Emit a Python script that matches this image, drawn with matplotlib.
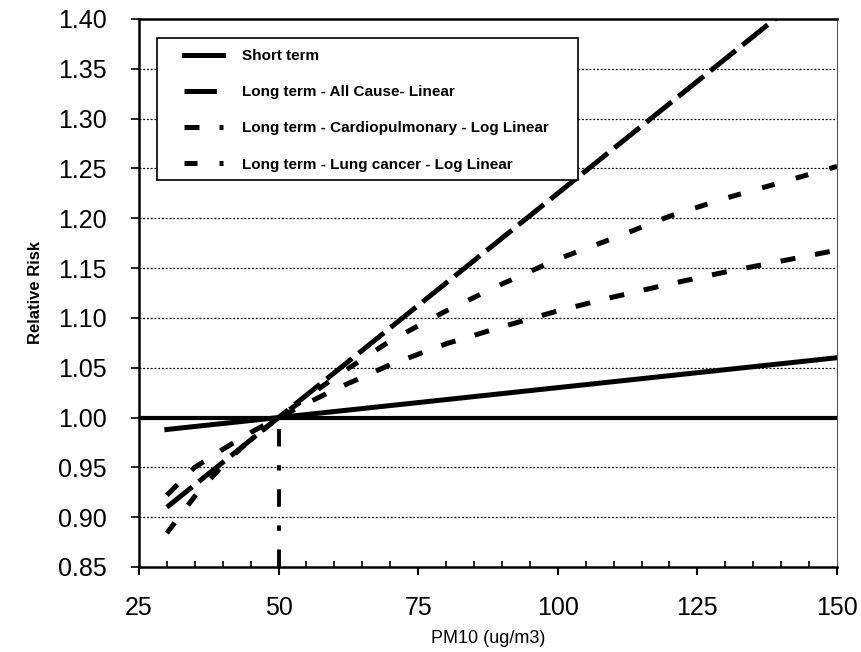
import numpy as np
import matplotlib.pyplot as plt
from matplotlib.patches import Rectangle

plt.rcParams['font.family'] = ['Liberation Sans', 'DejaVu Sans']

# values
pm10 = [30, 35, 40, 45, 50, 60, 70, 80, 90, 100, 110, 120, 130, 140, 150]
cardio = [0.922, 0.950, 0.968, 0.985, 1.000, 1.028, 1.053, 1.074, 1.091,
          1.107, 1.121, 1.134, 1.146, 1.157, 1.168]
lung = [0.884, 0.921, 0.952, 0.978, 1.000, 1.040, 1.077, 1.107, 1.134,
        1.159, 1.180, 1.202, 1.220, 1.236, 1.252]
lin_x = [30, 150]
short_term = [0.988, 1.060]
all_cause = [0.910, 1.450]
ref_pm10 = 50
ref_rr = 1.00
yticks = [0.85, 0.90, 0.95, 1.00, 1.05, 1.10, 1.15, 1.20, 1.25, 1.30, 1.35, 1.40]
xticks = [25, 50, 75, 100, 125, 150]

fig = plt.figure(figsize=(8.61, 6.52), dpi=100)
ax = fig.add_axes([0.1614, 0.1304, 0.8107, 0.8405])

ax.set_xlim(25, 150)
ax.set_ylim(0.85, 1.40)

for yv in yticks[1:-1]:
    ax.axhline(yv, color='black', lw=0.9, ls=(0, (1.5, 1.5)), zorder=1)

ax.axhline(ref_rr, color='black', lw=3.0, zorder=3)
ax.plot([ref_pm10, ref_pm10], [0.85, ref_rr], color='black', lw=2.8,
        dashes=(4.5, 4.8, 1.4, 4.8), zorder=3)

ax.plot(lin_x, short_term, color='black', lw=3.6, label='Short term', zorder=4)
ax.plot(lin_x, all_cause, color='black', lw=3.6, dashes=(6.5, 1.7),
        label='Long term - All Cause- Linear', zorder=4)
ax.plot(pm10, cardio, color='black', lw=3.6, dashes=(3.0, 4.0),
        label='Long term - Cardiopulmonary - Log Linear', zorder=4)
ax.plot(pm10, lung, color='black', lw=3.6, dashes=(2.6, 4.4),
        label='Long term - Lung cancer - Log Linear', zorder=4)

ax.set_xticks(xticks)
ax.set_xticks(np.arange(25, 151, 5), minor=True)
ax.set_yticks(yticks)
ax.set_yticklabels(['%.2f' % v for v in yticks])
ax.tick_params(axis='x', which='major', direction='out', length=6, width=1.5,
               labelsize=18, pad=15)
ax.tick_params(axis='x', which='minor', direction='in', length=4, width=1.2)
ax.tick_params(axis='y', direction='out', length=6, width=1.2,
               labelsize=18, pad=17)

for side in ['left', 'bottom', 'top']:
    ax.spines[side].set_linewidth(1.8)
ax.spines['right'].set_linewidth(0.8)
ax.spines['right'].set_color('#555555')

ax.set_xlabel('PM10 (ug/m3)', fontsize=13, labelpad=7)
ax.set_ylabel('Relative Risk', fontsize=12, fontweight='bold', labelpad=11)

# legend frame drawn separately so the padding matches the original box
ax.add_patch(Rectangle((0.0258, 0.7062), 0.603, 0.2591, transform=ax.transAxes,
                       facecolor='white', edgecolor='black', lw=1.2, zorder=5))
leg = ax.legend(loc='upper left', bbox_to_anchor=(0.064, 0.945),
                borderaxespad=0, borderpad=0, frameon=False,
                prop={'weight': 'bold', 'size': 11},
                handlelength=2.6, handletextpad=1.2, labelspacing=1.45)
leg.set_zorder(6)

fig.savefig('out.png', dpi=100)
